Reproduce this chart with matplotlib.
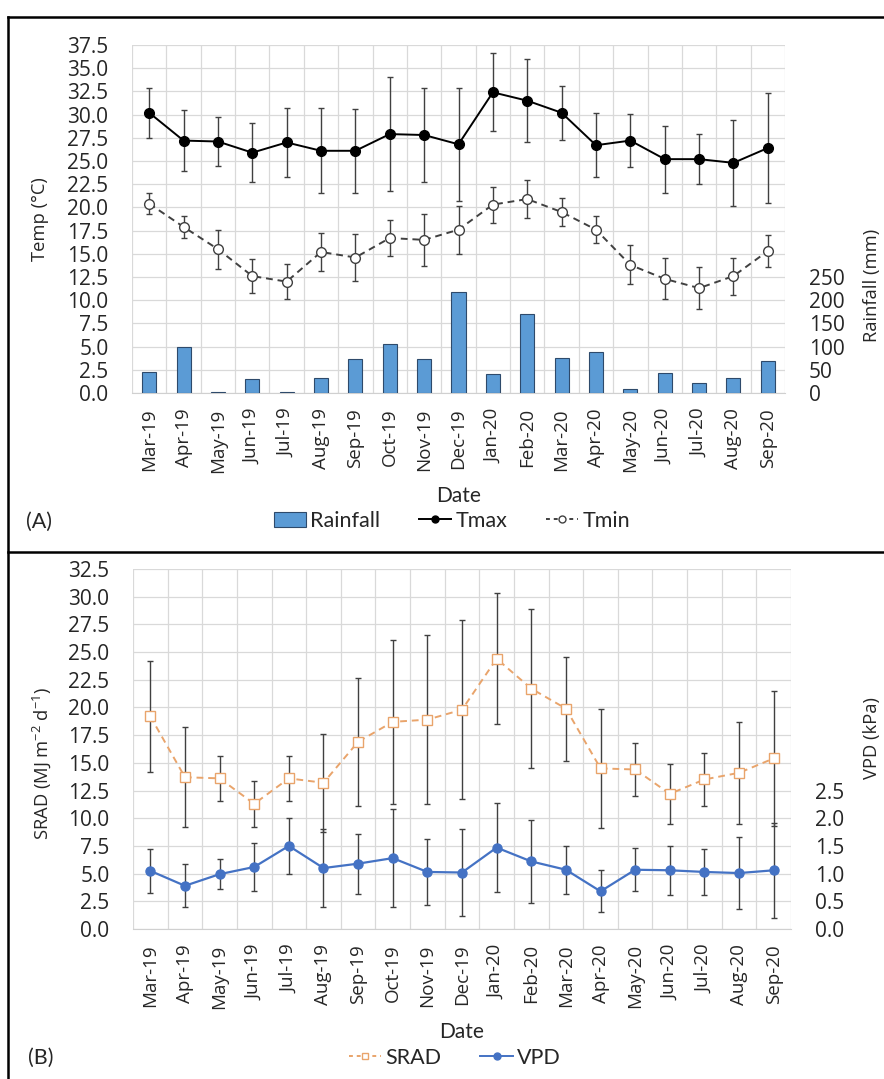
import numpy as np
import matplotlib
matplotlib.use("Agg")
import matplotlib.pyplot as plt
from matplotlib.lines import Line2D
from matplotlib.patches import Patch

plt.rcParams['font.family'] = ['Open Sans', 'DejaVu Sans']
plt.rcParams['mathtext.fontset'] = 'custom'
plt.rcParams['mathtext.rm'] = 'Open Sans'
plt.rcParams['mathtext.default'] = 'rm'

# data
months = ['Mar-19', 'Apr-19', 'May-19', 'Jun-19', 'Jul-19', 'Aug-19', 'Sep-19',
          'Oct-19', 'Nov-19', 'Dec-19', 'Jan-20', 'Feb-20', 'Mar-20', 'Apr-20',
          'May-20', 'Jun-20', 'Jul-20', 'Aug-20', 'Sep-20']
rain = [46, 100, 2, 30, 3, 32, 74, 106, 74, 218, 42, 170, 76, 89, 8, 44, 21, 32, 70]
tmax = [30.2, 27.2, 27.1, 25.9, 27.0, 26.1, 26.1, 27.9, 27.8, 26.8, 32.4, 31.5,
        30.2, 26.7, 27.2, 25.2, 25.2, 24.8, 26.4]
tmax_sd = [2.7, 3.3, 2.6, 3.2, 3.75, 4.6, 4.5, 6.1, 5.1, 6.1, 4.2, 4.5, 2.9, 3.45,
           2.85, 3.6, 2.7, 4.6, 5.9]
tmin = [20.4, 17.9, 15.5, 12.6, 12.0, 15.2, 14.6, 16.7, 16.5, 17.6, 20.3, 20.9,
        19.5, 17.6, 13.8, 12.3, 11.3, 12.6, 15.3]
tmin_sd = [1.1, 1.15, 2.1, 1.8, 1.85, 2.0, 2.5, 1.9, 2.8, 2.6, 1.95, 2.0, 1.5,
           1.45, 2.1, 2.2, 2.3, 2.0, 1.75]
srad = [19.2, 13.7, 13.6, 11.3, 13.6, 13.2, 16.9, 18.7, 18.9, 19.8, 24.4, 21.7,
        19.9, 14.5, 14.4, 12.2, 13.5, 14.1, 15.4]
srad_sd = [5.0, 4.5, 2.0, 2.1, 2.0, 4.4, 5.8, 7.4, 7.6, 8.1, 5.9, 7.2, 4.7, 5.35,
           2.35, 2.7, 2.4, 4.6, 6.1]
vpd = [1.05, 0.78, 0.99, 1.12, 1.50, 1.10, 1.18, 1.28, 1.03, 1.02, 1.47, 1.22,
       1.07, 0.68, 1.07, 1.06, 1.03, 1.01, 1.06]
vpd_sd = [0.4, 0.39, 0.27, 0.44, 0.51, 0.7, 0.54, 0.88, 0.6, 0.79, 0.8, 0.75,
          0.43, 0.38, 0.39, 0.44, 0.42, 0.65, 0.86]

x = np.arange(len(months))
W, H = 884, 1079
txt = '#262626'
grid_c = '#d9d9d9'
err_c = '#404040'
xtick_fs = 13.5
ytick_fs = 15
title_fs = 13.2
label_font = ['Lato', 'DejaVu Sans']

fig = plt.figure(figsize=(W / 100, H / 100), dpi=100)


def style_axes(ax, ymax, step):
    ax.set_xlim(-0.5, len(months) - 0.5)
    ax.set_ylim(0, ymax)
    ax.set_yticks(np.arange(0, ymax + 0.01, step))
    ax.yaxis.set_major_formatter(matplotlib.ticker.FormatStrFormatter('%.1f'))
    ax.set_xticks(x)
    ax.set_xticklabels(months, rotation=90, fontsize=xtick_fs, color=txt)
    ax.set_xticks(np.arange(-0.5, len(months)), minor=True)
    ax.grid(True, which='major', axis='y', color=grid_c, lw=0.9)
    ax.grid(True, which='minor', axis='x', color=grid_c, lw=0.9)
    ax.set_axisbelow(True)
    for s in ['top', 'left', 'right']:
        ax.spines[s].set_visible(False)
    ax.spines['bottom'].set_color('#d0d0d0')
    ax.tick_params(axis='both', which='both', length=0, labelcolor=txt)
    ax.tick_params(axis='y', pad=17, labelsize=ytick_fs)
    ax.tick_params(axis='x', pad=11, labelsize=xtick_fs)
    ax.set_xlabel('Date', fontsize=15, family=label_font, color=txt, labelpad=10)


def style_twin(ax2, ymax, ticks, fmt):
    ax2.set_ylim(0, ymax)
    ax2.set_yticks(ticks)
    ax2.yaxis.set_major_formatter(matplotlib.ticker.FormatStrFormatter(fmt))
    for s in ax2.spines.values():
        s.set_visible(False)
    ax2.tick_params(axis='y', length=0, labelsize=ytick_fs, labelcolor=txt, pad=17)


# ---------- (A) temperature and rainfall ----------
ax1 = fig.add_axes([132 / W, 1 - 393 / H, 653 / W, 348 / H])
style_axes(ax1, 37.5, 2.5)
ax1.errorbar(x, tmax, yerr=tmax_sd, color='black', lw=1.4, marker='o', ms=7,
             ecolor=err_c, elinewidth=1, capsize=2.5, capthick=1, zorder=3)
ax1.errorbar(x, tmin, yerr=tmin_sd, color='#404040', lw=1.4, ls=(0, (3.5, 2.5)),
             marker='o', ms=7, mfc='white', mec='#404040', mew=1,
             ecolor=err_c, elinewidth=1, capsize=2.5, capthick=1, zorder=3)
ax1.set_ylabel('Temp (°C)', fontsize=title_fs, color=txt)
ax1.yaxis.set_label_coords(-0.141, 0.5)

ax2 = ax1.twinx()
style_twin(ax2, 750, np.arange(0, 251, 50), '%d')
ax2.bar(x, rain, width=0.41, color='#5b9bd5', edgecolor='#2e4a6b', lw=0.8)
ax2.set_ylabel('Rainfall (mm)', fontsize=title_fs, color=txt)
ax2.yaxis.set_label_coords(1.133, 0.31)

handles_a = [Patch(facecolor='#5b9bd5', edgecolor='#2e4a6b', lw=0.8),
             Line2D([], [], color='black', lw=1.4, marker='o', ms=5),
             Line2D([], [], color='#404040', lw=1.4, ls=(0, (2, 2)), marker='o',
                    ms=5, mfc='white', mec='#404040')]
fig.legend(handles_a, ['Rainfall', 'Tmax', 'Tmin'], loc='center',
           bbox_to_anchor=(452 / W, 1 - 521 / H), ncol=3, frameon=False,
           prop={'family': label_font, 'size': 15.5}, handlelength=1.5,
           handletextpad=0.2, columnspacing=1.8, labelcolor=txt)
fig.text(26 / W, 1 - 522 / H, '(A)', fontsize=15.5, family=label_font,
         color=txt, va='center', ha='left')

# ---------- (B) solar radiation and VPD ----------
ax3 = fig.add_axes([133 / W, 1 - 929 / H, 658 / W, 360 / H])
style_axes(ax3, 32.5, 2.5)
srad_c = '#e9a46b'
vpd_c = '#4472c4'
ax3.errorbar(x, srad, yerr=srad_sd, color=srad_c, lw=1.4, ls=(0, (3.5, 2.5)),
             marker='s', ms=6.5, mfc='white', mec=srad_c, mew=1,
             ecolor=err_c, elinewidth=1, capsize=2.5, capthick=1, zorder=3)
ax3.set_ylabel('SRAD (MJ m$^{-2}$ d$^{-1}$)', fontsize=title_fs, color=txt)
ax3.yaxis.set_label_coords(-0.138, 0.461)

ax4 = ax3.twinx()
style_twin(ax4, 6.5, np.arange(0, 2.51, 0.5), '%.1f')
ax4.errorbar(x, vpd, yerr=vpd_sd, color=vpd_c, lw=1.6, marker='o', ms=6.5,
             ecolor=err_c, elinewidth=1, capsize=2.5, capthick=1, zorder=3)
ax4.set_ylabel('VPD (kPa)', fontsize=title_fs, color=txt)
ax4.yaxis.set_label_coords(1.123, 0.53)

handles_b = [Line2D([], [], color=srad_c, lw=1.4, ls=(0, (2, 2)), marker='s',
                    ms=5, mfc='white', mec=srad_c),
             Line2D([], [], color=vpd_c, lw=1.4, marker='o', ms=5)]
fig.legend(handles_b, ['SRAD', 'VPD'], loc='center',
           bbox_to_anchor=(455 / W, 1 - 1058 / H), ncol=2, frameon=False,
           prop={'family': label_font, 'size': 15.5}, handlelength=1.5,
           handletextpad=0.2, columnspacing=1.8, labelcolor=txt)
fig.text(28 / W, 1 - 1058 / H, '(B)', fontsize=15.5, family=label_font,
         color=txt, va='center', ha='left')

for ax in (ax1, ax2, ax3, ax4):
    ax.yaxis.label.set_va('center')

# panel frames
for seg in [((8, W), (17, 17)), ((8, 8), (17, H)), ((8, W), (551.5, 551.5))]:
    fig.add_artist(Line2D([p / W for p in seg[0]], [1 - p / H for p in seg[1]],
                          color='black', lw=1.8))

fig.savefig('out.png', dpi=100)
